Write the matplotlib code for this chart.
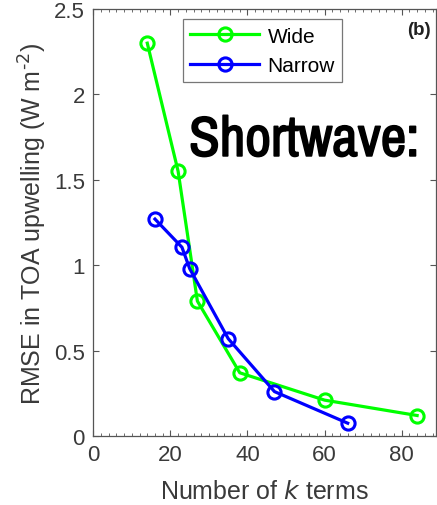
import matplotlib.pyplot as plt
import matplotlib.patheffects as pe
from matplotlib import font_manager as fm
from matplotlib.ticker import MultipleLocator

# k terms and RMSE (W m-2) for the two configurations
wide_k = [14, 22, 27, 38, 60, 84]
wide_rmse = [2.30, 1.55, 0.79, 0.37, 0.21, 0.12]
narrow_k = [16, 23, 25, 35, 47, 66]
narrow_rmse = [1.27, 1.105, 0.98, 0.57, 0.26, 0.075]

x_ticks = [0, 20, 40, 60, 80]
y_ticks = [0, 0.5, 1, 1.5, 2, 2.5]
y_ticklabels = ["0", "0.5", "1", "1.5", "2", "2.5"]

plt.rcParams["font.family"] = ["Liberation Sans", "DejaVu Sans"]
grey = "#3a3a3a"

avail = {f.name for f in fm.fontManager.ttflist}
narrow_font = next((n for n in ["Arial Narrow", "Liberation Sans Narrow", "Archivo Narrow",
                                "Roboto Condensed", "PT Sans Narrow", "Fira Sans Condensed",
                                "IBM Plex Sans Condensed", "Encode Sans Condensed",
                                "Barlow Semi Condensed", "Oswald"] if n in avail),
                   "Liberation Sans")

fig = plt.figure(figsize=(4.37, 5.06), dpi=100)
ax = fig.add_axes([93.3 / 437, 69 / 506, 342.7 / 437, 427 / 506])

ax.plot(wide_k, wide_rmse, color="#00ff00", lw=2.3, marker="o", ms=9.5,
        mfc="none", mew=2.2, label="Wide")
ax.plot(narrow_k, narrow_rmse, color="#0000ff", lw=2.3, marker="o", ms=9.5,
        mfc="none", mew=2.2, label="Narrow")

ax.set_xlim(0, 88.9)
ax.set_ylim(0, 2.5)
ax.set_xticks(x_ticks)
ax.set_yticks(y_ticks)
ax.set_yticklabels(y_ticklabels)
ax.xaxis.set_minor_locator(MultipleLocator(2))
ax.tick_params(which="both", direction="in", top=True, right=True,
               labelsize=16, colors="#555555", labelcolor=grey)
ax.tick_params(axis="x", which="major", length=4, pad=6)
ax.tick_params(axis="y", which="major", length=4, pad=6)
ax.tick_params(which="minor", length=2)
for s in ax.spines.values():
    s.set_color("#555555")
    s.set_linewidth(0.9)

ax.set_xlabel("Number of $\\it{k}$ terms", fontsize=18, color=grey)
ax.set_ylabel("RMSE in TOA upwelling (W m$^{\\text{-}2}$)", fontsize=18, color=grey)
ax.xaxis.set_label_coords(0.5, -0.1)
ax.yaxis.set_label_coords(-0.13, 0.5)

leg = ax.legend(loc="upper left", bbox_to_anchor=(0.262, 0.976), fontsize=15,
                frameon=True, fancybox=False, handlelength=3.3, borderaxespad=0,
                borderpad=0.35, labelspacing=0.5, handletextpad=0.4)
leg.get_frame().set_edgecolor("#555555")
leg.get_frame().set_linewidth(0.9)

ax.text(0.985, 0.952, "(b)", transform=ax.transAxes, ha="right", va="center",
        fontsize=13.5, fontweight="bold", color="#202020")
sw = ax.text(0.615, 0.656, "Shortwave:", transform=ax.transAxes, ha="center",
             va="baseline", fontsize=40, fontweight="bold", color="black",
             family=narrow_font,
             path_effects=[pe.withStroke(linewidth=1.2, foreground="black")])

# scale the headline so it spans the same width as in the figure
fig.canvas.draw()
w = sw.get_window_extent().width
sw.set_fontsize(40 * 230 / w)

fig.savefig("out.png", dpi=100)
